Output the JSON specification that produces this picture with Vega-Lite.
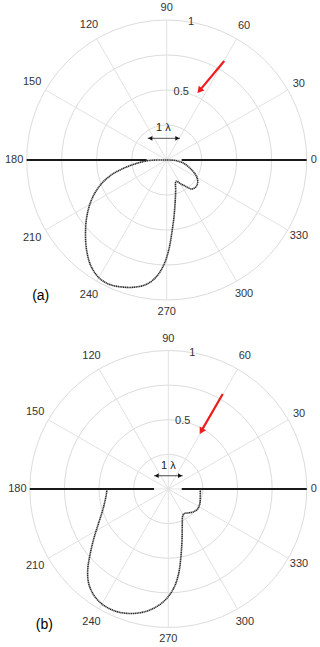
{
  "$schema": "https://vega.github.io/schema/vega-lite/v6.json",
  "padding": 0,
  "spacing": 0,
  "bounds": "flush",
  "background": "white",
  "config": {
    "view": {"stroke": null},
    "axis": {"disable": true},
    "font": "Liberation Sans"
  },
  "datasets": {
    "rings": [{"r": 0.25}, {"r": 0.5}, {"r": 0.75}, {"r": 1}],
    "spokes": [
      {"deg": 0, "ex": 1, "ey": 0}, {"deg": 30, "ex": 0.866, "ey": 0.5}, {"deg": 60, "ex": 0.5, "ey": 0.866},
      {"deg": 90, "ex": 0, "ey": 1}, {"deg": 120, "ex": -0.5, "ey": 0.866}, {"deg": 150, "ex": -0.866, "ey": 0.5},
      {"deg": 180, "ex": -1, "ey": 0}, {"deg": 210, "ex": -0.866, "ey": -0.5}, {"deg": 240, "ex": -0.5, "ey": -0.866},
      {"deg": 270, "ex": 0, "ey": -1}, {"deg": 300, "ex": 0.5, "ey": -0.866}, {"deg": 330, "ex": 0.866, "ey": -0.5}
    ],
    "labels": [
      {"t": "0", "deg": 0, "lr": 1.05}, {"t": "30", "deg": 30, "lr": 1.09}, {"t": "60", "deg": 60, "lr": 1.105},
      {"t": "90", "deg": 90, "lr": 1.085}, {"t": "120", "deg": 120, "lr": 1.11}, {"t": "150", "deg": 150, "lr": 1.11},
      {"t": "180", "deg": 180, "lr": 1.09}, {"t": "210", "deg": 210, "lr": 1.11}, {"t": "240", "deg": 240, "lr": 1.11},
      {"t": "270", "deg": 270, "lr": 1.085}, {"t": "300", "deg": 300, "lr": 1.105}, {"t": "330", "deg": 330, "lr": 1.09},
      {"t": "0.5", "deg": 78, "lr": 0.5}, {"t": "1", "deg": 80, "lr": 1.0}
    ],
    "surfA": [{"x": -1, "y": 0, "x2": -0.143, "y2": 0}, {"x": 0.107, "y": 0, "x2": 1, "y2": 0}],
    "surfB": [{"x": -1, "y": 0, "x2": -0.103, "y2": 0}, {"x": 0.097, "y": 0, "x2": 1, "y2": 0}],
    "patA": [
      {"i": 0, "x": 0, "y": 0}, {"i": 1, "x": 0.071, "y": -0.005}, {"i": 2, "x": 0.131, "y": -0.029},
      {"i": 3, "x": 0.179, "y": -0.071}, {"i": 4, "x": 0.212, "y": -0.115}, {"i": 5, "x": 0.222, "y": -0.155},
      {"i": 6, "x": 0.21, "y": -0.19}, {"i": 7, "x": 0.179, "y": -0.207}, {"i": 8, "x": 0.131, "y": -0.186},
      {"i": 9, "x": 0.095, "y": -0.167}, {"i": 10, "x": 0.067, "y": -0.152}, {"i": 11, "x": 0.064, "y": -0.22},
      {"i": 12, "x": 0.061, "y": -0.29}, {"i": 13, "x": 0.052, "y": -0.405}, {"i": 14, "x": 0.036, "y": -0.524},
      {"i": 15, "x": 0.014, "y": -0.645}, {"i": 16, "x": -0.022, "y": -0.752}, {"i": 17, "x": -0.075, "y": -0.835},
      {"i": 18, "x": -0.145, "y": -0.888}, {"i": 19, "x": -0.226, "y": -0.908}, {"i": 20, "x": -0.31, "y": -0.908},
      {"i": 21, "x": -0.405, "y": -0.89}, {"i": 22, "x": -0.48, "y": -0.845}, {"i": 23, "x": -0.54, "y": -0.76},
      {"i": 24, "x": -0.572, "y": -0.645}, {"i": 25, "x": -0.58, "y": -0.524}, {"i": 26, "x": -0.57, "y": -0.4},
      {"i": 27, "x": -0.535, "y": -0.28}, {"i": 28, "x": -0.475, "y": -0.18}, {"i": 29, "x": -0.4, "y": -0.11},
      {"i": 30, "x": -0.31, "y": -0.06}, {"i": 31, "x": -0.214, "y": -0.024}, {"i": 32, "x": -0.143, "y": -0.006},
      {"i": 33, "x": -0.071, "y": 0}, {"i": 34, "x": 0, "y": 0}
    ],
    "patB": [
      {"i": 0, "x": -0.443, "y": 0}, {"i": 1, "x": -0.448, "y": -0.043}, {"i": 2, "x": -0.467, "y": -0.128},
      {"i": 3, "x": -0.496, "y": -0.224}, {"i": 4, "x": -0.534, "y": -0.344}, {"i": 5, "x": -0.563, "y": -0.464},
      {"i": 6, "x": -0.582, "y": -0.585}, {"i": 7, "x": -0.575, "y": -0.681}, {"i": 8, "x": -0.539, "y": -0.765},
      {"i": 9, "x": -0.479, "y": -0.83}, {"i": 10, "x": -0.395, "y": -0.878}, {"i": 11, "x": -0.298, "y": -0.898},
      {"i": 12, "x": -0.202, "y": -0.893}, {"i": 13, "x": -0.106, "y": -0.862}, {"i": 14, "x": -0.022, "y": -0.801},
      {"i": 15, "x": 0.039, "y": -0.717}, {"i": 16, "x": 0.075, "y": -0.609}, {"i": 17, "x": 0.091, "y": -0.489},
      {"i": 18, "x": 0.099, "y": -0.368}, {"i": 19, "x": 0.101, "y": -0.248}, {"i": 20, "x": 0.104, "y": -0.195},
      {"i": 21, "x": 0.115, "y": -0.178}, {"i": 22, "x": 0.15, "y": -0.172}, {"i": 23, "x": 0.183, "y": -0.164},
      {"i": 24, "x": 0.212, "y": -0.145}, {"i": 25, "x": 0.228, "y": -0.105}, {"i": 26, "x": 0.231, "y": -0.05},
      {"i": 27, "x": 0.231, "y": 0}
    ],
    "arrA": [{"x": 0.411, "y": 0.707, "x2": 0.2345, "y2": 0.4956}],
    "arrB": [{"x": 0.393, "y": 0.686, "x2": 0.238, "y2": 0.418}],
    "lamA": [{"x": -0.136, "y": 0.155, "x2": 0.095, "y2": 0.155}],
    "lamHeadA": [{"x": -0.117, "y": 0.155, "d": "L"}, {"x": 0.076, "y": 0.155, "d": "R"}],
    "lamTextA": [{"x": -0.024, "y": 0.226, "t": "1 λ"}],
    "lamB": [{"x": -0.103, "y": 0.096, "x2": 0.104, "y2": 0.096}],
    "lamHeadB": [{"x": -0.084, "y": 0.096, "d": "L"}, {"x": 0.085, "y": 0.096, "d": "R"}],
    "lamTextB": [{"x": 0, "y": 0.168, "t": "1 λ"}],
    "tagA": [{"x": -0.9, "y": -0.971, "t": "(a)"}],
    "tagB": [{"x": -0.895, "y": -0.982, "t": "(b)"}]
  },
  "vconcat": [
    {
      "width": 320,
      "height": 326,
      "layer": [
        {
          "data": {"name": "rings"},
          "mark": {"type": "arc", "filled": false, "stroke": "#dcdcdc", "strokeWidth": 1, "theta": 0, "theta2": 6.2832},
          "encoding": {
            "x": {"datum": 0, "type": "quantitative", "scale": {"domain": [-1.1907, 1.095], "nice": false, "zero": false}, "axis": null},
            "y": {"datum": 0, "type": "quantitative", "scale": {"domain": [-1.1857, 1.1429], "nice": false, "zero": false}, "axis": null},
            "radius": {"field": "r", "type": "quantitative", "stack": null, "scale": {"type": "linear", "domain": [0, 1], "range": [0, 140], "zero": true, "nice": false}}
          }
        },
        {
          "data": {"name": "spokes"},
          "mark": {"type": "rule", "stroke": "#e2e2e2", "strokeWidth": 1},
          "encoding": {
            "x": {"field": "ex", "type": "quantitative", "axis": null},
            "y": {"field": "ey", "type": "quantitative", "axis": null},
            "x2": {"datum": 0},
            "y2": {"datum": 0}
          }
        },
        {
          "data": {"name": "labels"},
          "mark": {"type": "text", "fontSize": 11, "color": "#333333", "align": "center", "baseline": "middle"},
          "encoding": {
            "x": {"datum": 0, "type": "quantitative", "axis": null},
            "y": {"datum": 0, "type": "quantitative", "axis": null},
            "theta": {"field": "deg", "type": "quantitative", "stack": null, "scale": {"domain": [-270, 90], "range": [0, 6.283185307179586], "reverse": true, "zero": false, "nice": false}},
            "radius": {"field": "lr", "type": "quantitative", "stack": null, "scale": {"type": "linear", "domain": [0, 1], "range": [0, 140], "zero": true, "nice": false}},
            "text": {"field": "t"}
          }
        },
        {
          "data": {"name": "surfA"},
          "mark": {"type": "rule", "stroke": "#1a1a1a", "strokeWidth": 2},
          "encoding": {
            "x": {"field": "x", "type": "quantitative", "axis": null},
            "y": {"field": "y", "type": "quantitative", "axis": null},
            "x2": {"field": "x2"},
            "y2": {"field": "y2"}
          }
        },
        {
          "data": {"name": "patA"},
          "mark": {"type": "line", "stroke": "#2a2a2a", "strokeWidth": 1.6, "strokeDash": [1.3, 0.5], "interpolate": "catmull-rom"},
          "encoding": {
            "x": {"field": "x", "type": "quantitative", "axis": null},
            "y": {"field": "y", "type": "quantitative", "axis": null},
            "order": {"field": "i", "type": "quantitative"}
          }
        },
        {
          "data": {"name": "arrA"},
          "mark": {"type": "rule", "stroke": "#ee1c1c", "strokeWidth": 2.2},
          "encoding": {
            "x": {"field": "x", "type": "quantitative", "axis": null},
            "y": {"field": "y", "type": "quantitative", "axis": null},
            "x2": {"field": "x2"},
            "y2": {"field": "y2"}
          }
        },
        {
          "data": {"name": "arrA"},
          "mark": {"type": "point", "shape": "triangle-down", "filled": true, "color": "#ee1c1c", "size": 55, "angle": 40, "opacity": 1},
          "encoding": {
            "x": {"field": "x2", "type": "quantitative", "axis": null},
            "y": {"field": "y2", "type": "quantitative", "axis": null}
          }
        },
        {
          "data": {"name": "lamA"},
          "mark": {"type": "rule", "stroke": "#555555", "strokeWidth": 1},
          "encoding": {
            "x": {"field": "x", "type": "quantitative", "axis": null},
            "y": {"field": "y", "type": "quantitative", "axis": null},
            "x2": {"field": "x2"},
            "y2": {"field": "y2"}
          }
        },
        {
          "data": {"name": "lamHeadA"},
          "mark": {"type": "point", "filled": true, "color": "#111111", "size": 22, "opacity": 1},
          "encoding": {
            "x": {"field": "x", "type": "quantitative", "axis": null},
            "y": {"field": "y", "type": "quantitative", "axis": null},
            "shape": {"field": "d", "type": "nominal", "scale": {"domain": ["L", "R"], "range": ["triangle-left", "triangle-right"]}, "legend": null}
          }
        },
        {
          "data": {"name": "lamTextA"},
          "mark": {"type": "text", "fontSize": 11, "color": "#222222", "align": "center", "baseline": "middle"},
          "encoding": {
            "x": {"field": "x", "type": "quantitative", "axis": null},
            "y": {"field": "y", "type": "quantitative", "axis": null},
            "text": {"field": "t"}
          }
        },
        {
          "data": {"name": "tagA"},
          "mark": {"type": "text", "fontSize": 14, "color": "#000000", "align": "center", "baseline": "middle"},
          "encoding": {
            "x": {"field": "x", "type": "quantitative", "axis": null},
            "y": {"field": "y", "type": "quantitative", "axis": null},
            "text": {"field": "t"}
          }
        }
      ]
    },
    {
      "width": 320,
      "height": 321,
      "layer": [
        {
          "data": {"name": "rings"},
          "mark": {"type": "arc", "filled": false, "stroke": "#dcdcdc", "strokeWidth": 1, "theta": 0, "theta2": 6.2832},
          "encoding": {
            "x": {"datum": 0, "type": "quantitative", "scale": {"domain": [-1.2152, 1.0953], "nice": false, "zero": false}, "axis": null},
            "y": {"datum": 0, "type": "quantitative", "scale": {"domain": [-1.1408, 1.1769], "nice": false, "zero": false}, "axis": null},
            "radius": {"field": "r", "type": "quantitative", "stack": null, "scale": {"type": "linear", "domain": [0, 1], "range": [0, 138.5], "zero": true, "nice": false}}
          }
        },
        {
          "data": {"name": "spokes"},
          "mark": {"type": "rule", "stroke": "#e2e2e2", "strokeWidth": 1},
          "encoding": {
            "x": {"field": "ex", "type": "quantitative", "axis": null},
            "y": {"field": "ey", "type": "quantitative", "axis": null},
            "x2": {"datum": 0},
            "y2": {"datum": 0}
          }
        },
        {
          "data": {"name": "labels"},
          "mark": {"type": "text", "fontSize": 11, "color": "#333333", "align": "center", "baseline": "middle"},
          "encoding": {
            "x": {"datum": 0, "type": "quantitative", "axis": null},
            "y": {"datum": 0, "type": "quantitative", "axis": null},
            "theta": {"field": "deg", "type": "quantitative", "stack": null, "scale": {"domain": [-270, 90], "range": [0, 6.283185307179586], "reverse": true, "zero": false, "nice": false}},
            "radius": {"field": "lr", "type": "quantitative", "stack": null, "scale": {"type": "linear", "domain": [0, 1], "range": [0, 138.5], "zero": true, "nice": false}},
            "text": {"field": "t"}
          }
        },
        {
          "data": {"name": "surfB"},
          "mark": {"type": "rule", "stroke": "#1a1a1a", "strokeWidth": 2},
          "encoding": {
            "x": {"field": "x", "type": "quantitative", "axis": null},
            "y": {"field": "y", "type": "quantitative", "axis": null},
            "x2": {"field": "x2"},
            "y2": {"field": "y2"}
          }
        },
        {
          "data": {"name": "patB"},
          "mark": {"type": "line", "stroke": "#2a2a2a", "strokeWidth": 1.6, "strokeDash": [1.3, 0.5], "interpolate": "catmull-rom"},
          "encoding": {
            "x": {"field": "x", "type": "quantitative", "axis": null},
            "y": {"field": "y", "type": "quantitative", "axis": null},
            "order": {"field": "i", "type": "quantitative"}
          }
        },
        {
          "data": {"name": "arrB"},
          "mark": {"type": "rule", "stroke": "#ee1c1c", "strokeWidth": 2.2},
          "encoding": {
            "x": {"field": "x", "type": "quantitative", "axis": null},
            "y": {"field": "y", "type": "quantitative", "axis": null},
            "x2": {"field": "x2"},
            "y2": {"field": "y2"}
          }
        },
        {
          "data": {"name": "arrB"},
          "mark": {"type": "point", "shape": "triangle-down", "filled": true, "color": "#ee1c1c", "size": 55, "angle": 30, "opacity": 1},
          "encoding": {
            "x": {"field": "x2", "type": "quantitative", "axis": null},
            "y": {"field": "y2", "type": "quantitative", "axis": null}
          }
        },
        {
          "data": {"name": "lamB"},
          "mark": {"type": "rule", "stroke": "#666666", "strokeWidth": 1.2},
          "encoding": {
            "x": {"field": "x", "type": "quantitative", "axis": null},
            "y": {"field": "y", "type": "quantitative", "axis": null},
            "x2": {"field": "x2"},
            "y2": {"field": "y2"}
          }
        },
        {
          "data": {"name": "lamHeadB"},
          "mark": {"type": "point", "filled": true, "color": "#111111", "size": 22, "opacity": 1},
          "encoding": {
            "x": {"field": "x", "type": "quantitative", "axis": null},
            "y": {"field": "y", "type": "quantitative", "axis": null},
            "shape": {"field": "d", "type": "nominal", "scale": {"domain": ["L", "R"], "range": ["triangle-left", "triangle-right"]}, "legend": null}
          }
        },
        {
          "data": {"name": "lamTextB"},
          "mark": {"type": "text", "fontSize": 11, "color": "#222222", "align": "center", "baseline": "middle"},
          "encoding": {
            "x": {"field": "x", "type": "quantitative", "axis": null},
            "y": {"field": "y", "type": "quantitative", "axis": null},
            "text": {"field": "t"}
          }
        },
        {
          "data": {"name": "tagB"},
          "mark": {"type": "text", "fontSize": 14, "color": "#000000", "align": "center", "baseline": "middle"},
          "encoding": {
            "x": {"field": "x", "type": "quantitative", "axis": null},
            "y": {"field": "y", "type": "quantitative", "axis": null},
            "text": {"field": "t"}
          }
        }
      ]
    }
  ]
}
